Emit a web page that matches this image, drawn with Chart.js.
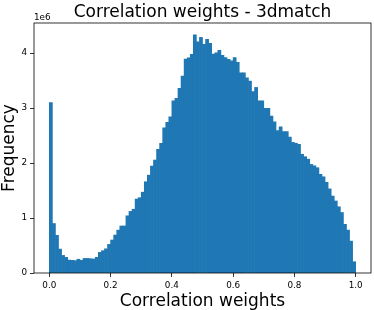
<!DOCTYPE html>
<html>
<head>
<meta charset="utf-8">
<script src="https://cdn.jsdelivr.net/npm/chart.js@4/dist/chart.umd.min.js"></script>
<style>
  html, body { margin: 0; padding: 0; background: #fff; }
  #wrap { width: 374px; height: 310px; }
</style>
</head>
<body>
<div id="wrap"><canvas id="c" width="374" height="310"></canvas></div>
<script>
// ---- data (frequency in units of 1e6, 100 bins of width 0.01 over [0, 1]) ----
const titleText = "Correlation weights - 3dmatch";
const xLabel = "Correlation weights";
const yLabel = "Frequency";
const yScaleNote = "1e6";
const binWidth = 0.01;
const counts = [
  3.10, 0.90, 0.685, 0.435, 0.32, 0.285, 0.235, 0.23, 0.225, 0.25,
  0.23, 0.265, 0.265, 0.26, 0.255, 0.285, 0.375, 0.405, 0.44, 0.52,
  0.60, 0.69, 0.78, 0.855, 0.855, 1.04, 1.12, 1.16, 1.345, 1.37,
  1.47, 1.66, 1.78, 1.945, 2.055, 2.25, 2.36, 2.64, 2.74, 2.84,
  3.13, 3.175, 3.36, 3.58, 3.89, 3.915, 3.975, 4.33, 4.205, 4.285,
  4.16, 4.25, 4.175, 3.98, 4.005, 4.05, 3.96, 3.92, 3.885, 3.86,
  3.92, 3.83, 3.64, 3.64, 3.55, 3.49, 3.30, 3.375, 3.13, 3.13,
  2.995, 2.995, 2.855, 2.75, 2.59, 2.66, 2.57, 2.57, 2.47, 2.375,
  2.36, 2.34, 2.16, 2.115, 2.07, 1.975, 1.95, 1.915, 1.795, 1.75,
  1.65, 1.53, 1.40, 1.31, 1.205, 1.10, 0.885, 0.78, 0.58, 0.205
];
const xTicks = [0.0, 0.2, 0.4, 0.6, 0.8, 1.0];
const yTicks = [0, 1, 2, 3, 4];

const binCenters = counts.map((_, i) => (i + 0.5) * binWidth);
const points = counts.map((v, i) => ({ x: binCenters[i], y: v }));

const FONT = "'DejaVu Sans', 'Liberation Sans', sans-serif";

const framePlugin = {
  id: 'frame',
  afterLayout(chart) {
    const tb = chart.titleBlock;
    if (tb) { tb.left = chart.chartArea.left; tb.right = chart.chartArea.right; }
  },
  afterDraw(chart) {
    const { ctx, chartArea: a } = chart;
    ctx.save();
    ctx.strokeStyle = '#000';
    ctx.lineWidth = 0.8;
    ctx.strokeRect(a.left, a.top, a.right - a.left, a.bottom - a.top);
    ctx.fillStyle = '#000';
    ctx.font = "8.8px " + FONT;
    ctx.textAlign = 'left';
    ctx.textBaseline = 'alphabetic';
    ctx.fillText(yScaleNote, a.left, a.top - 3);
    ctx.restore();
  }
};

new Chart(document.getElementById('c'), {
  type: 'bar',
  data: {
    datasets: [{
      data: points,
      backgroundColor: '#1f77b4',
      borderWidth: 0,
      barPercentage: 1.0,
      categoryPercentage: 1.0
    }]
  },
  options: {
    responsive: false,
    animation: false,
    devicePixelRatio: 1,
    layout: { padding: { left: 0, right: 3, top: 0, bottom: 0 } },
    plugins: {
      legend: { display: false },
      tooltip: { enabled: false },
      title: {
        display: true,
        text: titleText,
        color: '#000',
        font: { family: FONT, size: 17, weight: 'normal', lineHeight: 1.2 },
        padding: { top: 2.2, bottom: 0.4 }
      }
    },
    scales: {
      x: {
        type: 'linear',
        min: -0.05,
        max: 1.05,
        offset: false,
        afterBuildTicks(scale) { scale.ticks = xTicks.map(v => ({ value: v })); },
        afterFit(scale) { scale.height = 37; },
        ticks: {
          color: '#000',
          font: { family: FONT, size: 8.8 },
          padding: 3,
          maxRotation: 0,
          autoSkip: false,
          callback: (v) => Number(v).toFixed(1)
        },
        grid: { offset: false, drawOnChartArea: false, drawTicks: true, tickLength: 4, color: '#000', lineWidth: 0.8 },
        border: { display: false },
        title: {
          display: true,
          text: xLabel,
          color: '#000',
          font: { family: FONT, size: 17, lineHeight: 1.0 },
          padding: { top: 0, bottom: 0 }
        }
      },
      y: {
        type: 'linear',
        min: 0,
        max: 4.547,
        afterBuildTicks(scale) { scale.ticks = yTicks.map(v => ({ value: v })); },
        afterFit(scale) { scale.width = 34; },
        ticks: {
          color: '#000',
          font: { family: FONT, size: 8.8 },
          padding: 3,
          callback: (v) => String(v)
        },
        grid: { drawOnChartArea: false, drawTicks: true, tickLength: 4, color: '#000', lineWidth: 0.8 },
        border: { display: false },
        title: {
          display: true,
          text: yLabel,
          color: '#000',
          font: { family: FONT, size: 17, lineHeight: 1.0 },
          padding: { top: 1.5, bottom: 0 }
        }
      }
    }
  },
  plugins: [framePlugin]
});
</script>
</body>
</html>
